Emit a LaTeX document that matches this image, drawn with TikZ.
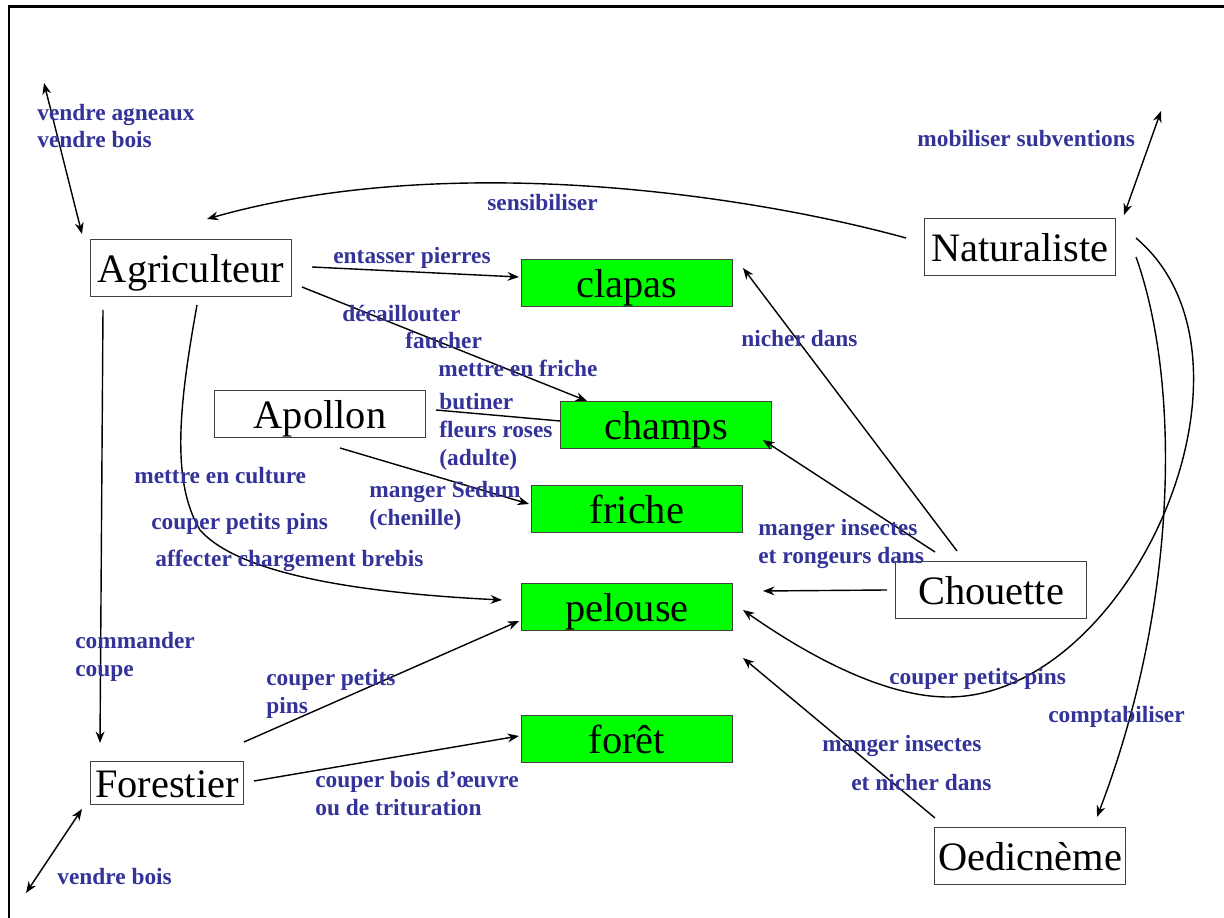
\documentclass[tikz,border=0pt]{standalone}
\usepackage{fontspec}
\setmainfont{Liberation Serif}
\usepackage{tikz}
\usetikzlibrary{calc,arrows,arrows.meta}
\definecolor{lblue}{RGB}{51,51,153}
\definecolor{lgreen}{RGB}{0,255,0}
\tikzstyle{actor}  = [draw=black!75, line width=0.6pt, fill=white, inner sep=0pt, text height=17pt, text depth=0pt, font=\fontsize{23}{27}\selectfont]
\tikzstyle{milieu} = [actor, fill=lgreen, minimum width=4.22cm, minimum height=0.94cm]
\tikzstyle{arrow}  = [line width=0.8pt,-{Stealth[length=6.5pt,width=5pt]}]
\tikzstyle{dbl}    = [line width=0.8pt,{Stealth[length=6.5pt,width=5pt]}-{Stealth[length=6.5pt,width=5pt]}]

\begin{document}
\begin{tikzpicture}[x=0.02cm, y=-0.02cm,
			lbl/.style={text=lblue, font=\bfseries\fontsize{13.3}{15.9}\selectfont, anchor=west, align=left, inner sep=0pt}]

		\useasboundingbox (0,0) rectangle (1224,918);
		\draw[line width=1.7pt] (9,918) -- (9,7) -- (1224,7);

		\node[actor, minimum width=4.02cm, minimum height=1.14cm] (agri) at (191,268) {Agriculteur};
		\node[actor, minimum width=3.82cm, minimum height=1.14cm] (natu) at (1020,247) {Naturaliste};
		\node[actor, minimum width=4.22cm, minimum height=0.94cm] (apollon) at (320,414) {Apollon};
		\node[actor, minimum width=3.06cm, minimum height=0.86cm] (forest) at (167,783) {Forestier};
		\node[actor, minimum width=3.82cm, minimum height=1.14cm] (chouette) at (991,590) {Chouette};
		\node[actor, minimum width=3.82cm, minimum height=1.14cm] (oedic) at (1030,856) {Oedicnème};

		\node[milieu] (clapas) at (627,283) {clapas};
		\node[milieu] (champs) at (666,425) {champs};
		\node[milieu] (friche) at (637,509) {friche};
		\node[milieu] (pelouse) at (627,607) {pelouse};
		\node[milieu] (foret) at (627,739) {forêt};

		\coordinate (agSell) at (44,83);    \coordinate (agIn) at (82,234);
		\coordinate (naSub) at (1161,111);  \coordinate (naIn) at (1124,215);
		\coordinate (foSell) at (26,893);   \coordinate (foIn) at (82,809);
		\coordinate (naL) at (906,238);     \coordinate (agTo) at (207,219);
		\coordinate (agR) at (312,267);     \coordinate (agR2) at (302,287);
		\coordinate (agB) at (197,305);     \coordinate (agB2) at (103,310);
		\coordinate (peTo) at (502,600);    \coordinate (foTo) at (100,743);
		\coordinate (apR) at (436,410);     \coordinate (apB) at (340,448);
		\coordinate (foR) at (244,742);     \coordinate (foR2) at (254,781);
		\coordinate (chA) at (957,551);     \coordinate (chB) at (935,552);
		\coordinate (chL) at (887,590);     \coordinate (peR) at (763,591);
		\coordinate (clTo) at (743,268);    \coordinate (naR) at (1136,238);
		\coordinate (naR2) at (1136,257);   \coordinate (oeTo) at (1097,817);
		\coordinate (oeA) at (935,818);     \coordinate (peTo2) at (743,658);
		\coordinate (peTo3) at (743,610);

		\draw[dbl] (agSell) -- (agIn);
		\draw[dbl] (naSub) -- (naIn);
		\draw[dbl] (foSell) -- (foIn);
		\draw[arrow] (naL) .. controls (750,195) and (450,150) .. (agTo);
		\draw[arrow] (agR) -- ($(clapas.west)+(-2,-6)$);
		\draw[arrow] (agR2) -- ($(champs.north west)+(27,0)$);
		\draw[line width=0.8pt] (apR) -- ($(champs.west)+(0,-4)$);
		\draw[arrow] (apB) -- ($(friche.west)+(-2,-5)$);
		\draw[arrow] (agB) .. controls (180,400) and (170,480) .. (200,530) .. controls (235,570) and (340,592) .. (peTo);
		\draw[arrow] (agB2) -- (foTo);
		\draw[arrow] (foR) -- ($(pelouse.south west)+(-2,-10)$);
		\draw[arrow] (foR2) -- ($(foret.west)+(-2,-3)$);
		\draw[arrow] (chA) -- (clTo);
		\draw[arrow] (chB) -- ($(champs.south east)+(-9,-9)$);
		\draw[arrow] (chL) -- (peR);
		\draw[arrow] (naR) .. controls (1280,360) and (1130,697) .. (948,697) .. controls (880,697) and (800,650) .. (peTo3);
		\draw[arrow] (naR2) .. controls (1180,380) and (1180,600) .. (oeTo);
		\draw[arrow] (oeA) -- (peTo2);

		\node[lbl] (l1) at (37,126) {vendre agneaux\\vendre bois};
		\node[lbl] (l2) at (917,139) {mobiliser subventions};
		\node[lbl] (l3) at (487,203) {sensibiliser};
		\node[lbl] (l4) at (333,258) {entasser pierres};
		\node[lbl] (l5) at (342,314) {décaillouter};
		\node[lbl] (l6) at (405,340) {faucher};
		\node[lbl] (l7) at (438,368) {mettre en friche};
		\node[lbl] (l8) at (439,432) {butiner\\fleurs roses\\(adulte)};
		\node[lbl] (l9) at (741,339) {nicher dans};
		\node[lbl] (l10) at (134,476) {mettre en culture};
		\node[lbl] (l11) at (369,506) {manger Sedum\\(chenille)};
		\node[lbl] (l12) at (151,524) {couper petits pins};
		\node[lbl] (l13) at (155,561) {affecter chargement brebis};
		\node[lbl] (l14) at (758,544) {manger insectes\\et rongeurs dans};
		\node[lbl] (l15) at (75,657) {commander\\coupe};
		\node[lbl] (l16) at (266,694) {couper petits\\pins};
		\node[lbl] (l17) at (889,679) {couper petits pins};
		\node[lbl] (l18) at (1048,717) {comptabiliser};
		\node[lbl] (l19) at (822,746) {manger insectes};
		\node[lbl] (l20) at (851,783) {et nicher dans};
		\node[lbl] (l21) at (315,794) {couper bois d’œuvre\\ou de trituration};
		\node[lbl] (l22) at (57,877) {vendre bois};
	\end{tikzpicture}
\end{document}
